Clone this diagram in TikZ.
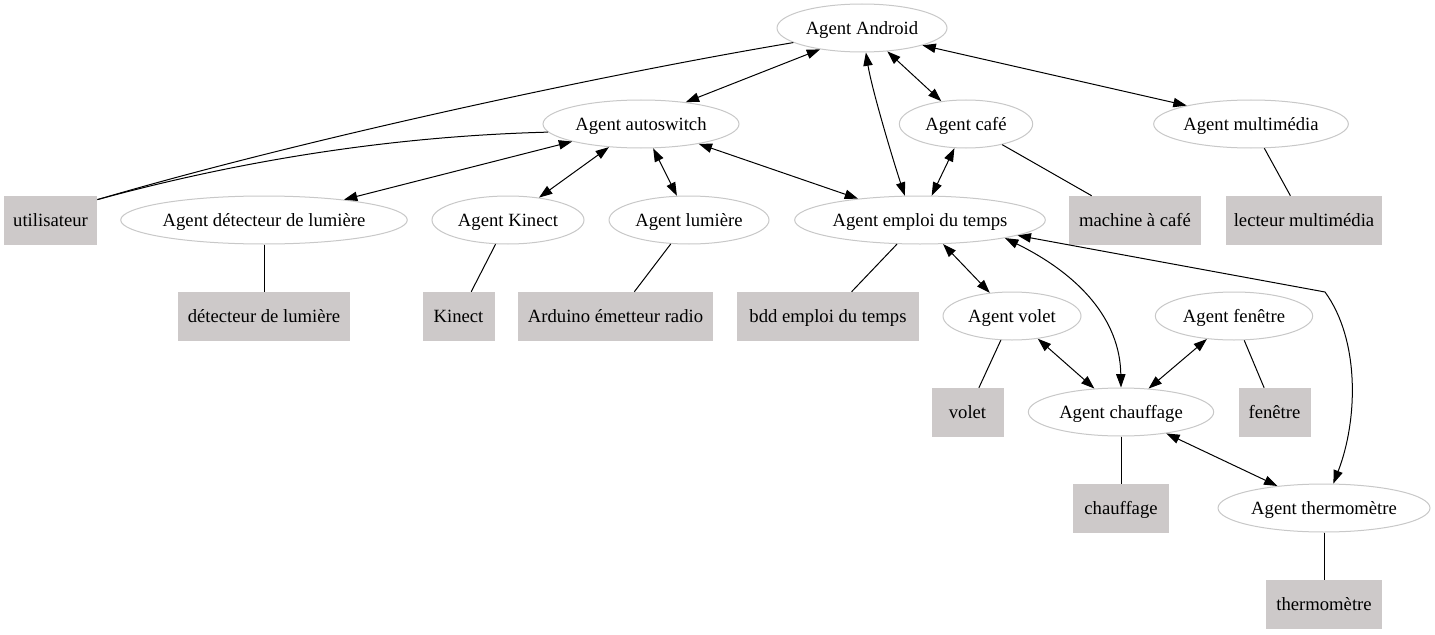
\documentclass[tikz,border=0pt]{standalone}
\usepackage{fontspec}
\setmainfont{Liberation Serif}
\usetikzlibrary{shapes.geometric,arrows.meta}
\definecolor{boxfill}{HTML}{CDC9C9}
\definecolor{ellline}{HTML}{C8C8C8}
\begin{document}
\begin{tikzpicture}[x=0.75pt,y=-0.75pt,
  agent/.style={ellipse,draw=ellline,line width=0.75pt,fill=white,minimum height=36pt,inner sep=0pt,text height=9.5pt,text depth=0pt,font=\fontsize{14pt}{16pt}\selectfont},
  device/.style={rectangle,fill=boxfill,minimum height=36.75pt,inner sep=0pt,text height=9.5pt,text depth=0pt,font=\fontsize{14pt}{16pt}\selectfont},
  link/.style={line width=0.75pt},
  both/.style={line width=0.75pt,{Triangle[length=10pt,width=7pt]}-{Triangle[length=10pt,width=7pt]}},
]
\fill[white] (0,0) rectangle (1435,635);
\useasboundingbox (0,0) rectangle (1435,635);

% agents
\node[agent,minimum width=127.5pt] (android) at (862,28) {Agent Android};
\node[agent,minimum width=147pt] (autosw) at (641,124) {Agent autoswitch};
\node[agent,minimum width=100pt] (cafe) at (966,124) {Agent café};
\node[agent,minimum width=146pt] (multi) at (1251,124) {Agent multimédia};
\node[agent,minimum width=214.5pt] (adet) at (264,220) {Agent détecteur de lumière};
\node[agent,minimum width=114pt] (akin) at (508,220) {Agent Kinect};
\node[agent,minimum width=120pt] (alum) at (689,220) {Agent lumière};
\node[agent,minimum width=188pt] (aemp) at (920,220) {Agent emploi du temps};
\node[agent,minimum width=103.5pt] (avol) at (1012,316) {Agent volet};
\node[agent,minimum width=118pt] (afen) at (1234,316) {Agent fenêtre};
\node[agent,minimum width=139pt] (acha) at (1121,412) {Agent chauffage};
\node[agent,minimum width=159pt] (athe) at (1324,508) {Agent thermomètre};

% devices
\node[device,minimum width=70pt] (util) at (50.5,220.5) {utilisateur};
\node[device,minimum width=99pt] (mach) at (1135,220.5) {machine à café};
\node[device,minimum width=117pt] (lect) at (1304,220.5) {lecteur multimédia};
\node[device,minimum width=129pt] (det) at (264,316.5) {détecteur de lumière};
\node[device,minimum width=54pt] (kin) at (458.5,316.5) {Kinect};
\node[device,minimum width=146pt] (ard) at (615.5,316.5) {Arduino émetteur radio};
\node[device,minimum width=136.5pt] (bdd) at (828,316.5) {bdd emploi du temps};
\node[device,minimum width=54pt] (vol) at (967.5,412.5) {volet};
\node[device,minimum width=54pt] (fen) at (1274.5,412.5) {fenêtre};
\node[device,minimum width=72pt] (cha) at (1121,508.5) {chauffage};
\node[device,minimum width=87pt] (the) at (1324,604.5) {thermomètre};

\coordinate (tbend) at (1325,292);

% user links
\draw[link] (util.24) .. controls (300,140) and (600,75) .. (android.192);
\draw[link] (util.24) .. controls (250,158) and (400,136) .. (autosw.185);

% agent-agent links
\draw[both] (android.207) -- (autosw.26);
\draw[both] (android) -- (cafe);
\draw[both] (android.-16.5) -- (multi.164.7);
\draw[both] (android.-81) .. controls (872,90) and (893,160) .. (aemp.122);
\draw[both] (autosw) -- (adet);
\draw[both] (autosw) -- (akin);
\draw[both] (autosw) -- (alum);
\draw[both] (autosw) -- (aemp);
\draw[both] (cafe) -- (aemp);
\draw[both] (aemp) -- (avol);
\draw[both] (aemp.-12.2) .. controls (1080,275) and (1120,320) .. (acha.north);
\draw[both] (aemp.-9.6) -- (tbend) .. controls (1360,340) and (1358,420) .. (athe.69);
\draw[both] (avol) -- (acha);
\draw[both] (afen) -- (acha);
\draw[both] (acha) -- (athe);

% agent-device links
\draw[link] (cafe) -- (mach);
\draw[link] (multi) -- (lect);
\draw[link] (adet) -- (det);
\draw[link] (akin) -- (kin);
\draw[link] (alum) -- (ard);
\draw[link] (aemp) -- (bdd);
\draw[link] (avol) -- (vol);
\draw[link] (afen) -- (fen);
\draw[link] (acha) -- (cha);
\draw[link] (athe) -- (the);
\end{tikzpicture}
\end{document}
